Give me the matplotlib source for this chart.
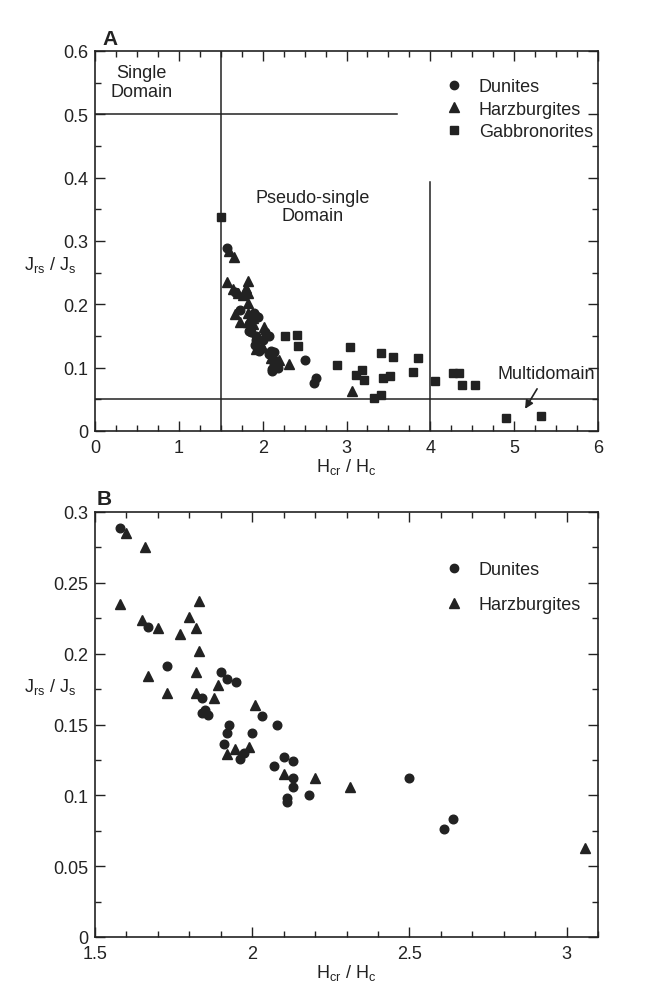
import matplotlib
matplotlib.use('Agg')
import matplotlib.pyplot as plt
from matplotlib.ticker import MultipleLocator, FuncFormatter
from matplotlib.lines import Line2D
from matplotlib.transforms import blended_transform_factory

# Dunites (Hcr/Hc, Jrs/Js)
dun_x = [1.58, 1.67, 1.73, 1.90, 1.92, 1.95, 1.84, 1.85, 1.86, 1.84, 2.03, 2.08, 1.925,
         1.92, 2.00, 1.91, 1.96, 1.975, 2.07, 2.10, 2.13, 2.13, 2.13, 2.18, 2.11, 2.11,
         2.50, 2.64, 2.61]
dun_y = [0.289, 0.219, 0.191, 0.187, 0.182, 0.180, 0.169, 0.160, 0.157, 0.158, 0.156, 0.150, 0.150,
         0.144, 0.144, 0.136, 0.126, 0.130, 0.121, 0.127, 0.124, 0.112, 0.106, 0.100, 0.098, 0.095,
         0.112, 0.083, 0.076]

# Harzburgites
harz_x = [1.60, 1.66, 1.58, 1.83, 1.65, 1.70, 1.80, 1.82, 1.77, 1.83, 1.82, 1.67,
          1.73, 1.89, 1.82, 1.88, 2.01, 1.92, 1.945, 1.99, 2.10, 2.20, 2.31, 3.06]
harz_y = [0.285, 0.275, 0.235, 0.237, 0.224, 0.218, 0.226, 0.218, 0.214, 0.202, 0.187, 0.184,
          0.172, 0.178, 0.172, 0.169, 0.164, 0.129, 0.133, 0.134, 0.115, 0.112, 0.106, 0.063]

# Gabbronorites (panel A only)
gab_x = [1.50, 2.27, 2.41, 2.42, 2.89, 3.04, 3.11, 3.18, 3.21, 3.33, 3.41, 3.41,
         3.56, 3.85, 3.79, 3.515, 3.43, 4.05, 4.27, 4.34, 4.38, 4.53, 4.90, 5.32]
gab_y = [0.338, 0.150, 0.151, 0.135, 0.104, 0.132, 0.088, 0.097, 0.080, 0.052, 0.057, 0.123,
         0.117, 0.116, 0.093, 0.087, 0.083, 0.079, 0.091, 0.091, 0.072, 0.072, 0.021, 0.023]

# domain boundaries (Day plot)
sd_hc, md_hc = 1.5, 4.0
sd_jr, md_jr = 0.5, 0.05

plt.rcParams['font.family'] = ['Liberation Sans', 'DejaVu Sans']
plt.rcParams['mathtext.fontset'] = 'custom'
plt.rcParams['mathtext.rm'] = 'Liberation Sans'
plt.rcParams['mathtext.it'] = 'Liberation Sans:italic'

ink = '#222222'
fs = 13
fig = plt.figure(figsize=(6.45, 9.95), dpi=100)
axA = fig.add_axes([95/645, 1-432/995, 503/645, 380/995])
axB = fig.add_axes([95/645, 1-938/995, 503/645, 425/995])

fmt = FuncFormatter(lambda v, p: '%g' % round(v, 3))


def style(ax, xmaj, xmin, ymaj, ymin):
    ax.xaxis.set_major_locator(MultipleLocator(xmaj))
    ax.xaxis.set_minor_locator(MultipleLocator(xmin))
    ax.yaxis.set_major_locator(MultipleLocator(ymaj))
    ax.yaxis.set_minor_locator(MultipleLocator(ymin))
    ax.xaxis.set_major_formatter(fmt)
    ax.yaxis.set_major_formatter(fmt)
    ax.tick_params(which='both', direction='in', top=True, right=True, color=ink,
                   labelsize=fs, labelcolor=ink, width=1)
    ax.tick_params(which='major', length=7)
    ax.tick_params(which='minor', length=4)
    ax.tick_params(axis='x', pad=6)
    ax.tick_params(axis='y', pad=5)
    for s in ax.spines.values():
        s.set_color(ink)
        s.set_linewidth(1.2)


def ylab(ax, yv):
    tr = blended_transform_factory(ax.transAxes, ax.transData)
    ax.text(-0.09, yv, r'J$_{\mathrm{rs}}$ / J$_{\mathrm{s}}$', transform=tr,
            ha='center', va='center', fontsize=fs, color=ink)


mk = dict(color=ink, linestyle='none', zorder=3)

# ---- panel A
axA.axvline(sd_hc, color=ink, lw=1.1, zorder=1)
axA.axhline(md_jr, color=ink, lw=1.1, zorder=1)
axA.plot([0, 3.6], [sd_jr, sd_jr], color=ink, lw=1.1, zorder=1)
axA.plot([md_hc, md_hc], [0, 0.393], color=ink, lw=1.1, zorder=1)
axA.plot(dun_x, dun_y, marker='o', ms=6.2, **mk)
axA.plot(harz_x, harz_y, marker='^', ms=6.8, **mk)
axA.plot(gab_x, gab_y, marker='s', ms=5.8, **mk)
axA.set_xlim(0, 6)
axA.set_ylim(0, 0.6)
style(axA, 1, 0.25, 0.1, 0.05)
axA.set_xlabel(r'H$_{\mathrm{cr}}$ / H$_{\mathrm{c}}$', fontsize=fs, color=ink, labelpad=0)
ylab(axA, 0.264)

axA.text(0.55, 0.551, 'Single\nDomain', ha='center', va='center', fontsize=fs,
         color=ink, linespacing=1.1)
axA.text(2.6, 0.355, 'Pseudo-single\nDomain', ha='center', va='center', fontsize=fs,
         color=ink, linespacing=1.1)
axA.annotate('Multidomain', xy=(5.13, 0.035), xytext=(5.38, 0.09),
             ha='center', va='center', fontsize=fs, color=ink,
             arrowprops=dict(arrowstyle='-|>', color=ink, lw=1.2,
                             shrinkA=3, shrinkB=0, mutation_scale=12))

hA = [Line2D([], [], marker='o', ms=6, **mk),
      Line2D([], [], marker='^', ms=6.5, **mk),
      Line2D([], [], marker='s', ms=5.5, **mk)]
axA.legend(hA, ['Dunites', 'Harzburgites', 'Gabbronorites'], loc='upper left',
           bbox_to_anchor=(0.699, 0.928), frameon=False, fontsize=fs,
           handlelength=0.8, handletextpad=0.99, labelspacing=0.3, borderpad=0,
           borderaxespad=0, labelcolor=ink)

axA.text(0.014, 1.008, 'A', transform=axA.transAxes, fontsize=15, fontweight='bold',
         color=ink, ha='left', va='bottom')

# ---- panel B
axB.plot(dun_x, dun_y, marker='o', ms=6.2, **mk)
axB.plot(harz_x, harz_y, marker='^', ms=6.8, **mk)
axB.set_xlim(1.5, 3.1)
axB.set_ylim(0, 0.3)
style(axB, 0.5, 0.1, 0.05, 0.025)
axB.set_xlabel(r'H$_{\mathrm{cr}}$ / H$_{\mathrm{c}}$', fontsize=fs, color=ink, labelpad=0)
ylab(axB, 0.177)

axB.legend(hA[:2], ['Dunites', 'Harzburgites'], loc='upper left',
           bbox_to_anchor=(0.699, 0.885), frameon=False, fontsize=fs,
           handlelength=0.8, handletextpad=0.99, labelspacing=1.0, borderpad=0,
           borderaxespad=0, labelcolor=ink)

axB.text(0.004, 1.01, 'B', transform=axB.transAxes, fontsize=15, fontweight='bold',
         color=ink, ha='left', va='bottom')

fig.savefig('out.png', dpi=100)
